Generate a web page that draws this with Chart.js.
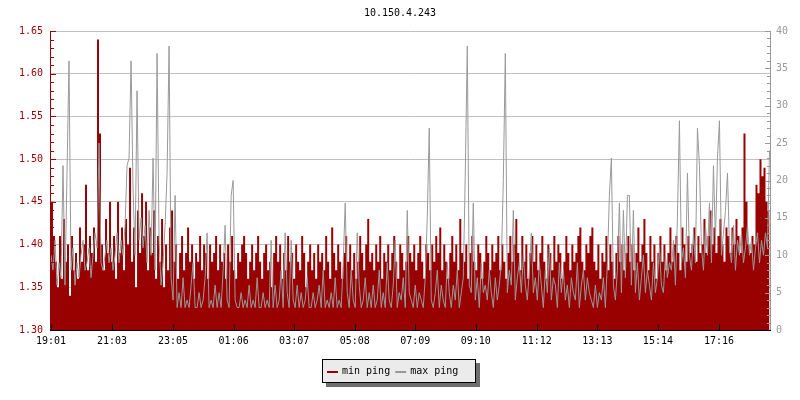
<!DOCTYPE html>
<html>
<head>
<meta charset="utf-8">
<script src="https://cdn.jsdelivr.net/npm/chart.js@4/dist/chart.umd.min.js"></script>
<style>
html,body{margin:0;padding:0;background:#fff;}
canvas{display:block;}
</style>
</head>
<body>
<canvas id="c" width="800" height="400"></canvas>
<script>
const title = '10.150.4.243';
const seriesNames = ['min ping', 'max ping'];
const stepMinutes = 4; // one sample every 4 minutes, starting 19:01
const tickMinutes = [0, 122, 244, 365, 486, 607, 728, 849, 971, 1092, 1213, 1335];
const tickLabels = ['19:01','21:03','23:05','01:06','03:07','05:08','07:09','09:10','11:12','13:13','15:14','17:16'];
const leftTicks = [1.30, 1.35, 1.40, 1.45, 1.50, 1.55, 1.60, 1.65];
const rightTicks = [0, 5, 10, 15, 20, 25, 30, 35, 40];

const minPing = [
1.45,1.41,1.38,1.35,1.41,1.36,1.43,1.38,1.40,1.34, 1.41,1.37,1.39,1.36,1.42,1.38,1.40,1.47,1.37,1.41,
1.39,1.42,1.38,1.64,1.53,1.40,1.37,1.43,1.39,1.45, 1.38,1.41,1.36,1.45,1.39,1.42,1.37,1.43,1.40,1.49,
1.38,1.42,1.35,1.44,1.39,1.46,1.41,1.45,1.37,1.42, 1.39,1.44,1.36,1.41,1.38,1.43,1.35,1.40,1.37,1.42,
1.44,1.38,1.40,1.36,1.39,1.41,1.37,1.39,1.42,1.38, 1.40,1.36,1.39,1.38,1.41,1.37,1.40,1.39,1.36,1.40,
1.38,1.39,1.41,1.37,1.40,1.38,1.39,1.36,1.40,1.38, 1.41,1.37,1.36,1.39,1.38,1.40,1.41,1.39,1.36,1.38,
1.40,1.37,1.39,1.41,1.38,1.36,1.39,1.40,1.37,1.38, 1.35,1.39,1.41,1.38,1.40,1.36,1.39,1.37,1.41,1.38,
1.39,1.36,1.40,1.38,1.37,1.41,1.39,1.35,1.38,1.40, 1.37,1.39,1.36,1.40,1.38,1.39,1.37,1.41,1.38,1.36,
1.42,1.39,1.37,1.40,1.38,1.36,1.39,1.41,1.38,1.40, 1.37,1.39,1.36,1.38,1.41,1.39,1.37,1.40,1.43,1.38,
1.39,1.37,1.40,1.38,1.41,1.36,1.39,1.38,1.40,1.37, 1.39,1.41,1.38,1.36,1.40,1.39,1.37,1.38,1.41,1.39,
1.38,1.40,1.37,1.39,1.41,1.38,1.36,1.40,1.39,1.37, 1.40,1.38,1.41,1.39,1.42,1.37,1.40,1.38,1.36,1.39,
1.41,1.38,1.40,1.37,1.43,1.39,1.38,1.40,1.36,1.39, 1.41,1.38,1.37,1.40,1.39,1.36,1.38,1.41,1.39,1.37,
1.40,1.38,1.39,1.41,1.37,1.40,1.38,1.36,1.39,1.41, 1.38,1.40,1.43,1.39,1.37,1.41,1.38,1.40,1.36,1.39,
1.41,1.38,1.40,1.37,1.39,1.41,1.38,1.36,1.40,1.39, 1.37,1.41,1.38,1.40,1.39,1.36,1.38,1.41,1.39,1.37,
1.40,1.38,1.39,1.41,1.42,1.38,1.37,1.40,1.39,1.41, 1.42,1.38,1.37,1.40,1.36,1.39,1.38,1.41,1.37,1.40,
1.38,1.36,1.39,1.41,1.38,1.40,1.37,1.39,1.41,1.38, 1.40,1.37,1.39,1.42,1.38,1.40,1.43,1.39,1.37,1.41,
1.38,1.40,1.36,1.39,1.41,1.38,1.40,1.37,1.39,1.42, 1.38,1.40,1.41,1.39,1.37,1.42,1.40,1.38,1.41,1.39,
1.40,1.42,1.38,1.41,1.39,1.40,1.43,1.39,1.41,1.44, 1.40,1.42,1.39,1.41,1.43,1.40,1.38,1.42,1.41,1.39,
1.42,1.40,1.43,1.41,1.39,1.42,1.53,1.45,1.40,1.39, 1.41,1.40,1.47,1.46,1.50,1.48,1.49,1.45,1.44,1.46
];

const maxPing = [
10,8,12,6,9,7,22,6,21,36, 8,11,6,9,7,10,12,8,9,11,
7,10,13,11,25,9,8,10,12,9, 11,8,10,13,9,12,10,14,22,23,
36,19,10,32,12,15,11,14,9,16, 10,23,8,37,12,6,9,14,21,38,
7,4,18,3,5,3,7,3,4,3, 6,9,3,3,5,3,4,7,13,3,
4,3,6,3,5,3,8,14,4,3, 18,20,4,3,3,5,3,4,3,6,
3,4,3,7,3,3,5,3,4,3, 12,3,6,3,4,8,3,13,5,3,
12,4,3,6,3,5,3,4,7,3, 3,5,3,4,6,3,8,3,4,3,
5,3,7,3,4,3,9,17,5,3, 8,4,3,13,6,3,4,7,3,5,
3,6,3,4,8,3,5,3,9,4, 3,6,12,3,5,4,7,3,16,5,
4,3,6,3,5,4,3,7,15,27, 4,3,5,8,3,6,4,3,9,5,
3,6,4,8,3,5,7,21,38,6, 5,17,4,7,3,9,5,6,4,8,
5,3,7,4,6,9,20,37,5,8, 6,16,4,7,9,5,10,6,4,8,
13,5,7,4,9,6,3,8,5,11, 4,7,6,3,9,5,8,4,6,3,
7,5,4,9,3,6,8,4,7,5, 4,3,6,3,5,4,7,3,9,18,
23,6,4,8,17,5,16,7,18,18, 6,16,5,9,4,7,10,5,8,6,
4,9,5,7,11,6,5,10,7,9, 8,12,6,15,28,9,11,7,21,10,
8,13,9,27,22,11,8,14,10,17, 9,22,12,23,28,10,13,16,21,11,
9,14,8,12,10,13,9,11,14,10, 12,8,11,13,9,12,10,13,11,24
];

const RED = '#990000';
const GREY = '#999999';
const FONT = {family: "'DejaVu Sans Mono', 'Liberation Mono', monospace", size: 10};

const axesPlugin = {
  id: 'rrdAxes',
  afterDatasetsDraw(chart) {
    const {ctx, chartArea: a, scales} = chart;
    ctx.save();
    ctx.lineWidth = 1;
    ctx.strokeStyle = RED;
    ctx.beginPath();
    ctx.moveTo(a.left - 0.5, a.top);
    ctx.lineTo(a.left - 0.5, a.bottom + 1);
    for (let k = 0; k <= 35; k++) {
      const py = Math.round(scales.y.getPixelForValue(1.30 + k * 0.01)) + 0.5;
      const len = (k % 5 === 0) ? 5 : 3;
      ctx.moveTo(a.left, py);
      ctx.lineTo(a.left + len, py);
    }
    ctx.stroke();
    ctx.strokeStyle = GREY;
    ctx.beginPath();
    ctx.moveTo(a.right + 0.5, a.top);
    ctx.lineTo(a.right + 0.5, a.bottom + 1);
    for (let k = 0; k <= 40; k++) {
      const py = Math.round(scales.y2.getPixelForValue(k)) + 0.5;
      const len = (k % 5 === 0) ? 5 : 3;
      ctx.moveTo(a.right, py);
      ctx.lineTo(a.right - len, py);
    }
    ctx.stroke();
    ctx.strokeStyle = '#000';
    ctx.beginPath();
    ctx.moveTo(a.left - 1, a.bottom + 0.5);
    ctx.lineTo(a.right + 1, a.bottom + 0.5);
    tickMinutes.forEach(m => {
      const px = Math.round(scales.x.getPixelForValue(m)) + 0.5;
      ctx.moveTo(px, a.bottom);
      ctx.lineTo(px, a.bottom - 6);
    });
    ctx.stroke();
    ctx.restore();
  }
};

const legendPlugin = {
  id: 'boxLegend',
  afterDraw(chart) {
    const ctx = chart.ctx;
    const bx = 322, by = 359, bw = 154, bh = 24;
    ctx.save();
    ctx.fillStyle = '#6e6e6e';
    ctx.fillRect(bx + 4, by + 4, bw, bh);
    ctx.fillStyle = '#ebebeb';
    ctx.fillRect(bx, by, bw, bh);
    ctx.strokeStyle = '#000';
    ctx.lineWidth = 1;
    ctx.strokeRect(bx + 0.5, by + 0.5, bw - 1, bh - 1);
    ctx.font = "10px 'DejaVu Sans Mono', 'Liberation Mono', monospace";
    ctx.textBaseline = 'middle';
    ctx.textAlign = 'left';
    let x = bx + 5;
    chart.data.datasets.forEach((ds) => {
      ctx.fillStyle = ds.legendColor;
      ctx.fillRect(x, by + 12, 11, 2);
      ctx.fillStyle = '#000';
      ctx.fillText(ds.label, x + 15, by + 12);
      x += 15 + ctx.measureText(ds.label).width + 5;
    });
    ctx.restore();
  }
};

new Chart(document.getElementById('c'), {
  type: 'line',
  data: {
    datasets: [
      {
        label: seriesNames[0],
        data: minPing.map((v, i) => ({x: i * stepMinutes, y: v})),
        yAxisID: 'y',
        stepped: 'before',
        fill: 'start',
        backgroundColor: RED,
        borderColor: RED,
        borderWidth: 0,
        pointRadius: 0,
        order: 2,
        legendColor: RED
      },
      {
        label: seriesNames[1],
        data: maxPing.map((v, i) => ({x: i * stepMinutes, y: v})),
        yAxisID: 'y2',
        stepped: false,
        tension: 0,
        fill: false,
        borderColor: GREY,
        borderWidth: 1,
        pointRadius: 0,
        order: 1,
        legendColor: GREY
      }
    ]
  },
  options: {
    responsive: false,
    devicePixelRatio: 1,
    animation: false,
    events: [],
    layout: {padding: {left: 0, right: 0, top: 0, bottom: 48}},
    plugins: {
      legend: {display: false},
      tooltip: {enabled: false},
      title: {
        display: true,
        text: title,
        color: '#000',
        font: {family: FONT.family, size: 10, weight: 'normal'},
        padding: {top: 7, bottom: 12}
      }
    },
    scales: {
      x: {
        type: 'linear',
        min: 0,
        max: 1437,
        afterBuildTicks: s => { s.ticks = tickMinutes.map(v => ({value: v})); },
        afterFit: s => { s.height = 22; },
        ticks: {
          autoSkip: false, maxRotation: 0, color: '#000', font: FONT, padding: 5,
          callback: (v) => tickLabels[tickMinutes.indexOf(v)]
        },
        grid: {display: false, drawTicks: false},
        border: {display: false}
      },
      y: {
        position: 'left',
        min: 1.30,
        max: 1.65,
        afterBuildTicks: s => { s.ticks = leftTicks.map(v => ({value: v})); },
        afterFit: s => { s.width = 51; },
        ticks: {color: RED, font: FONT, padding: 8, callback: v => Number(v).toFixed(2)},
        grid: {color: '#c0c0c0', drawTicks: false, lineWidth: 1},
        border: {display: false}
      },
      y2: {
        position: 'right',
        min: 0,
        max: 40,
        afterBuildTicks: s => { s.ticks = rightTicks.map(v => ({value: v})); },
        afterFit: s => { s.width = 30; },
        ticks: {color: GREY, font: FONT, padding: 6},
        grid: {display: false, drawTicks: false},
        border: {display: false}
      }
    }
  },
  plugins: [axesPlugin, legendPlugin]
});
</script>
</body>
</html>
